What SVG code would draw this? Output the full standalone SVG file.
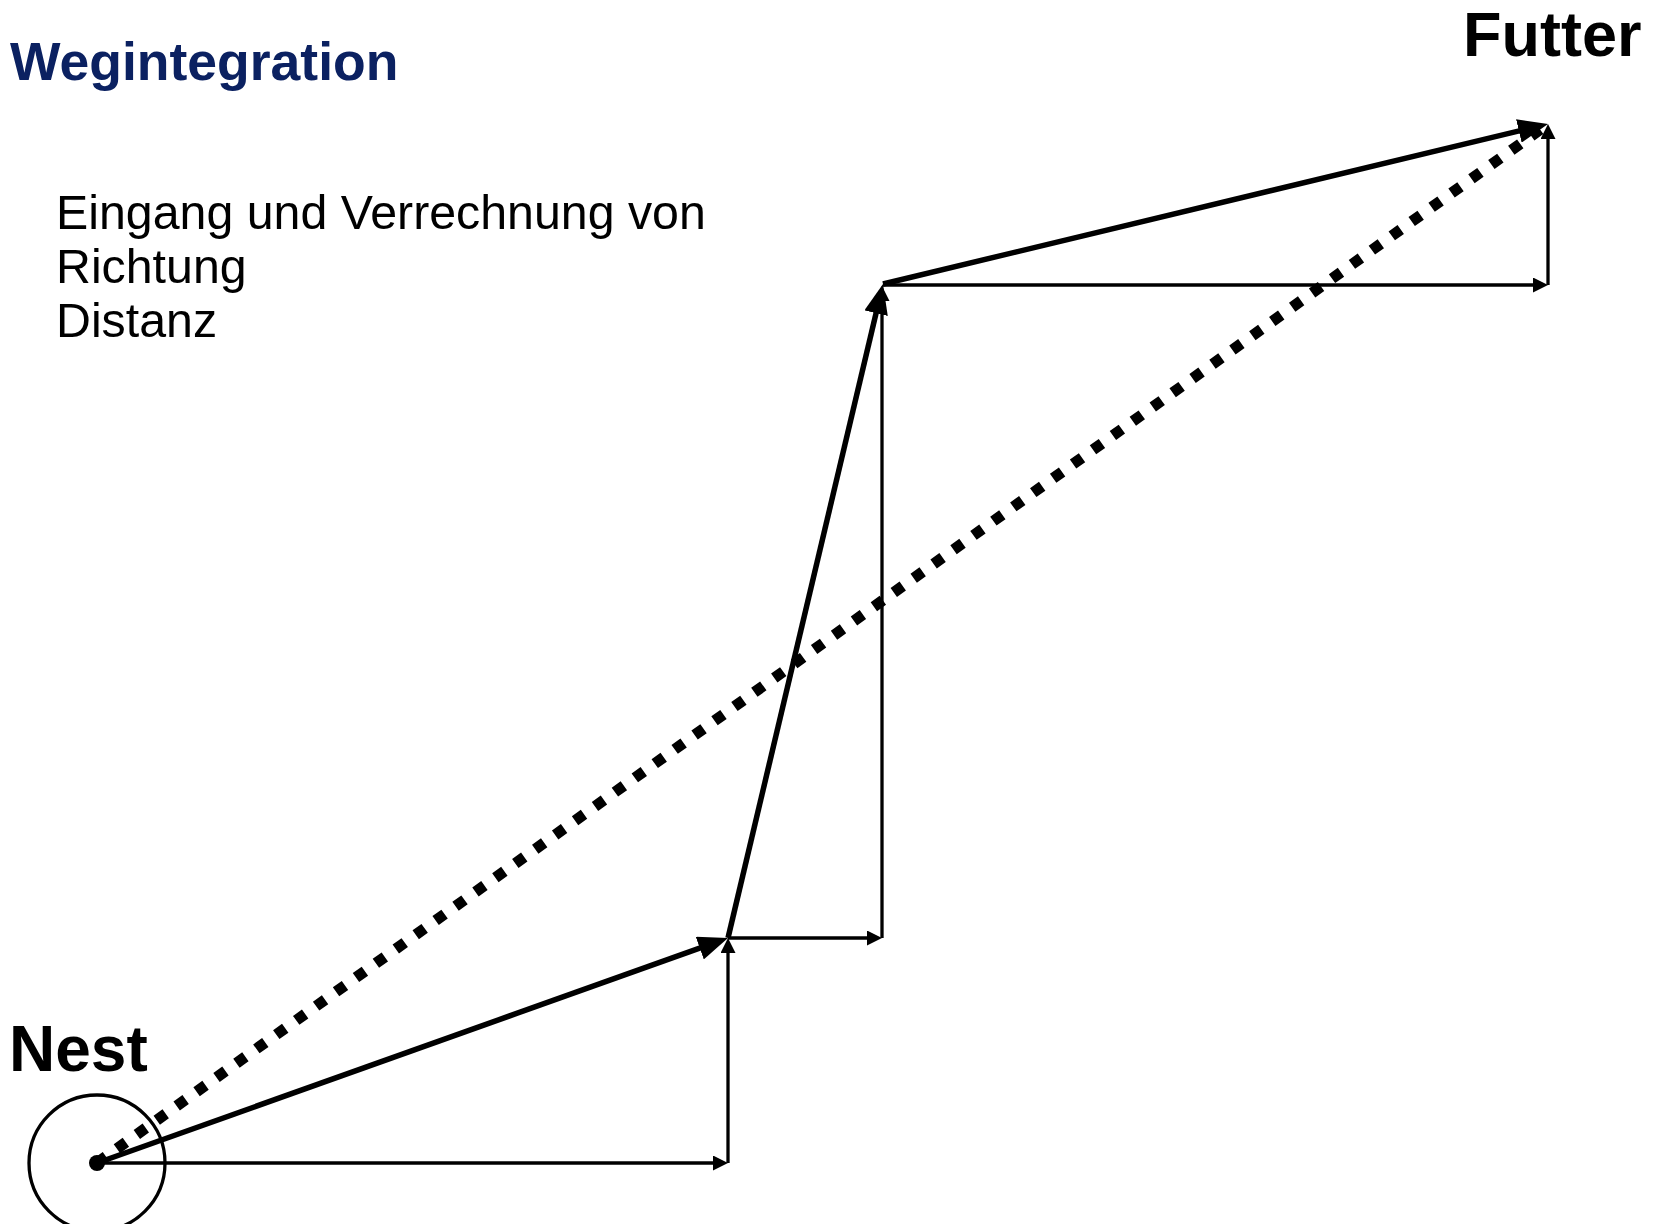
<svg xmlns="http://www.w3.org/2000/svg" width="1661" height="1224" viewBox="0 0 1661 1224">
<style>
  .title { font-family: "Liberation Sans", Arial, sans-serif; font-weight: bold; font-size: 53.5px; fill: #0b2161; }
  .label { font-family: "Liberation Sans", Arial, sans-serif; font-weight: bold; fill: #000; }
  .body { font-family: "Liberation Sans", Arial, sans-serif; font-size: 48.3px; fill: #000; }
  .thick { stroke: #000; stroke-width: 5.5; fill: none; marker-end: url(#bigHead); }
  .thin { stroke: #000; stroke-width: 3.3; fill: none; marker-end: url(#smallHead); }
  .dotted { stroke: #000; stroke-width: 11; fill: none; stroke-dasharray: 11 13.5; }
</style>
<defs>
  <marker id="bigHead" markerUnits="userSpaceOnUse" viewBox="0 0 30 24" markerWidth="30" markerHeight="24" refX="20" refY="12" orient="auto">
    <path d="M0,0 L30,12 L0,24 z" fill="#000"/>
  </marker>
  <marker id="smallHead" markerUnits="userSpaceOnUse" viewBox="0 0 15 15" markerWidth="15" markerHeight="15" refX="10" refY="7.5" orient="auto">
    <path d="M0,0 L15,7.5 L0,15 z" fill="#000"/>
  </marker>
</defs>
<rect width="1661" height="1224" fill="#fff"/>

<g id="title">
  <text class="title" x="10" y="80">Wegintegration</text>
</g>
<g id="description">
  <text class="body" x="56" y="229">Eingang und Verrechnung von</text>
  <text class="body" x="56" y="283">Richtung</text>
  <text class="body" x="56" y="337">Distanz</text>
</g>
<g id="futter">
  <text class="label" x="1463" y="56" font-size="63">Futter</text>
</g>
<g id="nest">
  <text class="label" x="9" y="1071" font-size="64">Nest</text>
  <circle cx="97" cy="1163" r="68" fill="none" stroke="#000" stroke-width="3.3"/>
  <circle cx="97" cy="1163" r="8" fill="#000"/>
</g>

<g id="connectors">
  <!-- component vectors (thin) -->
  <line class="thin" x1="97" y1="1163" x2="723" y2="1163"/>
  <line class="thin" x1="728" y1="1163" x2="728" y2="943"/>
  <line class="thin" x1="728" y1="938" x2="877" y2="938"/>
  <line class="thin" x1="882" y1="938" x2="882" y2="291"/>
  <line class="thin" x1="883" y1="285" x2="1543" y2="285"/>
  <line class="thin" x1="1548" y1="285" x2="1548" y2="129"/>
  <!-- path segments (thick) -->
  <line class="thick" x1="97" y1="1163" x2="718.6" y2="941.4"/>
  <line class="thick" x1="728" y1="938" x2="880.7" y2="293.7"/>
  <line class="thick" x1="883" y1="284" x2="1538.3" y2="126.3"/>
  <!-- integrated home vector (dotted) -->
  <line class="dotted" x1="97" y1="1163" x2="1548" y2="124"/>
</g>
</svg>
